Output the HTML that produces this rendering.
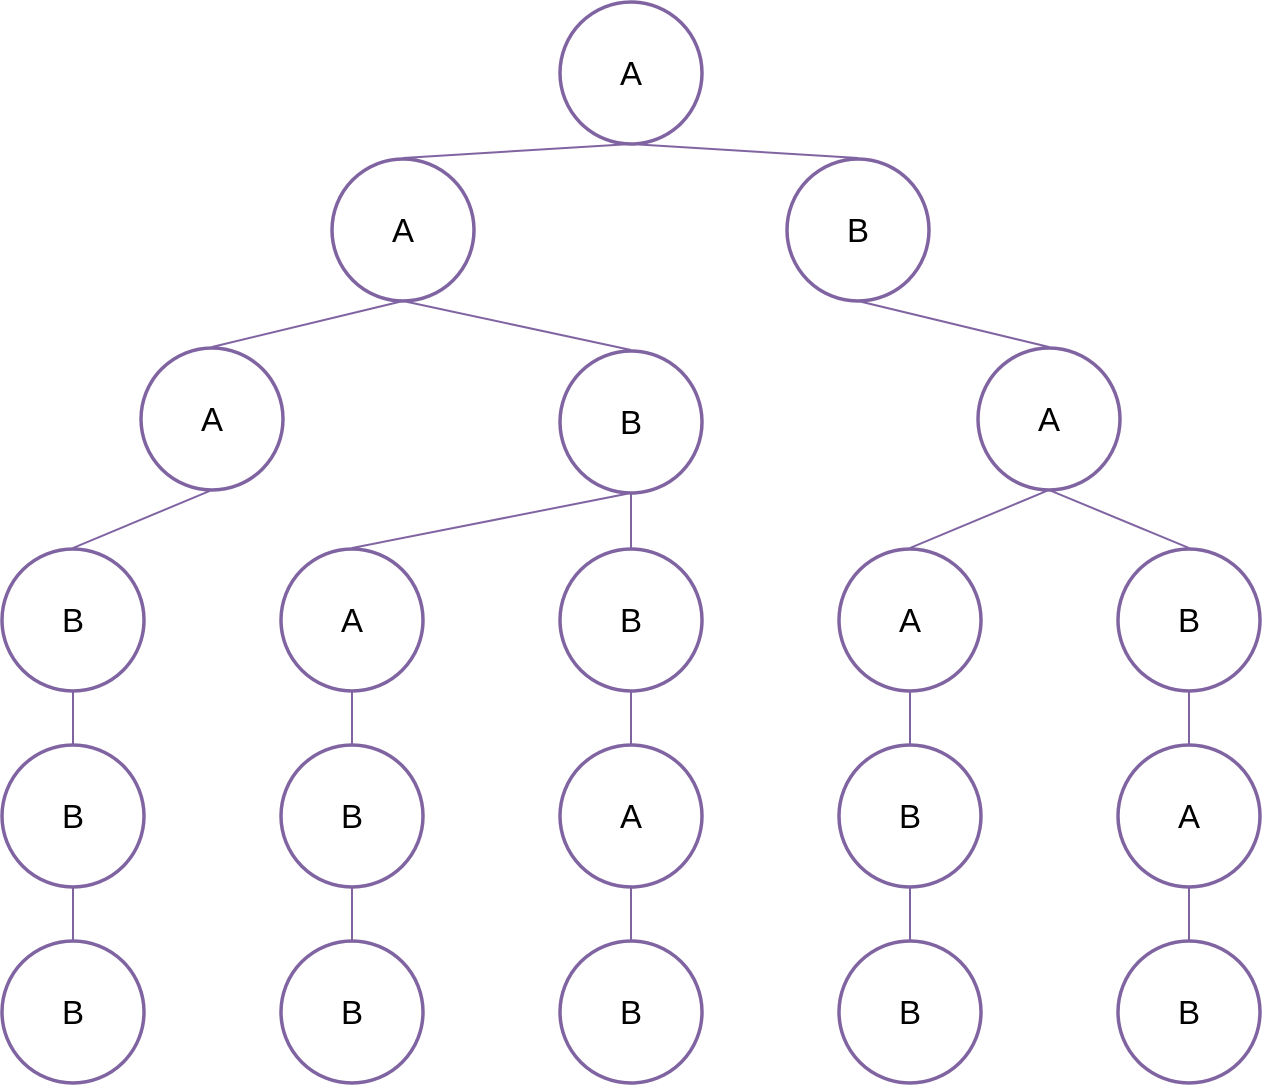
<!DOCTYPE html>
<html><head><meta charset="utf-8"><style>
html,body{margin:0;padding:0;background:#fff;}
svg{display:block;}
text{font-family:"Liberation Sans","DejaVu Sans",sans-serif;font-size:33px;fill:#000;}
</style></head><body>
<svg id="tree" width="1262" height="1085" viewBox="0 0 1262 1085"></svg>
<script>
const nodeLabels = ["A","A","B","A","B","A","B","A","B","A","B","B","B","A","B","A","B","B","B","B","B"];
const nodeX = [631,403,858,212,631,1049,73,352,631,910,1189,73,352,631,910,1189,73,352,631,910,1189];
const nodeY = [73,230,230,419,422,419,620,620,620,620,620,816,816,816,816,816,1012,1012,1012,1012,1012];
const edgeFrom = [0,0,1,1,2,3,4,4,5,5,6,7,8,9,10,11,12,13,14,15];
const edgeTo   = [1,2,3,4,5,6,7,8,9,10,11,12,13,14,15,16,17,18,19,20];
const R = 71;
const svg = document.getElementById('tree');
const NS = 'http://www.w3.org/2000/svg';
for (let i = 0; i < edgeFrom.length; i++) {
  const a = edgeFrom[i], b = edgeTo[i];
  const l = document.createElementNS(NS, 'line');
  l.setAttribute('x1', nodeX[a]); l.setAttribute('y1', nodeY[a] + R);
  l.setAttribute('x2', nodeX[b]); l.setAttribute('y2', nodeY[b] - R - 1);
  l.setAttribute('stroke', '#8064A2'); l.setAttribute('stroke-width', '2');
  
  
  svg.appendChild(l);
}
for (let i = 0; i < nodeLabels.length; i++) {
  const g = document.createElementNS(NS, 'g');
  
  
  const c = document.createElementNS(NS, 'circle');
  c.setAttribute('cx', nodeX[i]); c.setAttribute('cy', nodeY[i]); c.setAttribute('r', R);
  c.setAttribute('fill', '#fff'); c.setAttribute('stroke', '#8064A2'); c.setAttribute('stroke-width', '3.5');
  
  
  const t = document.createElementNS(NS, 'text');
  t.setAttribute('x', nodeX[i]); t.setAttribute('y', nodeY[i] + 12);
  t.setAttribute('text-anchor', 'middle');
  t.textContent = nodeLabels[i];
  
  
  g.appendChild(c); g.appendChild(t);
  svg.appendChild(g);
}
</script>
</body></html>
